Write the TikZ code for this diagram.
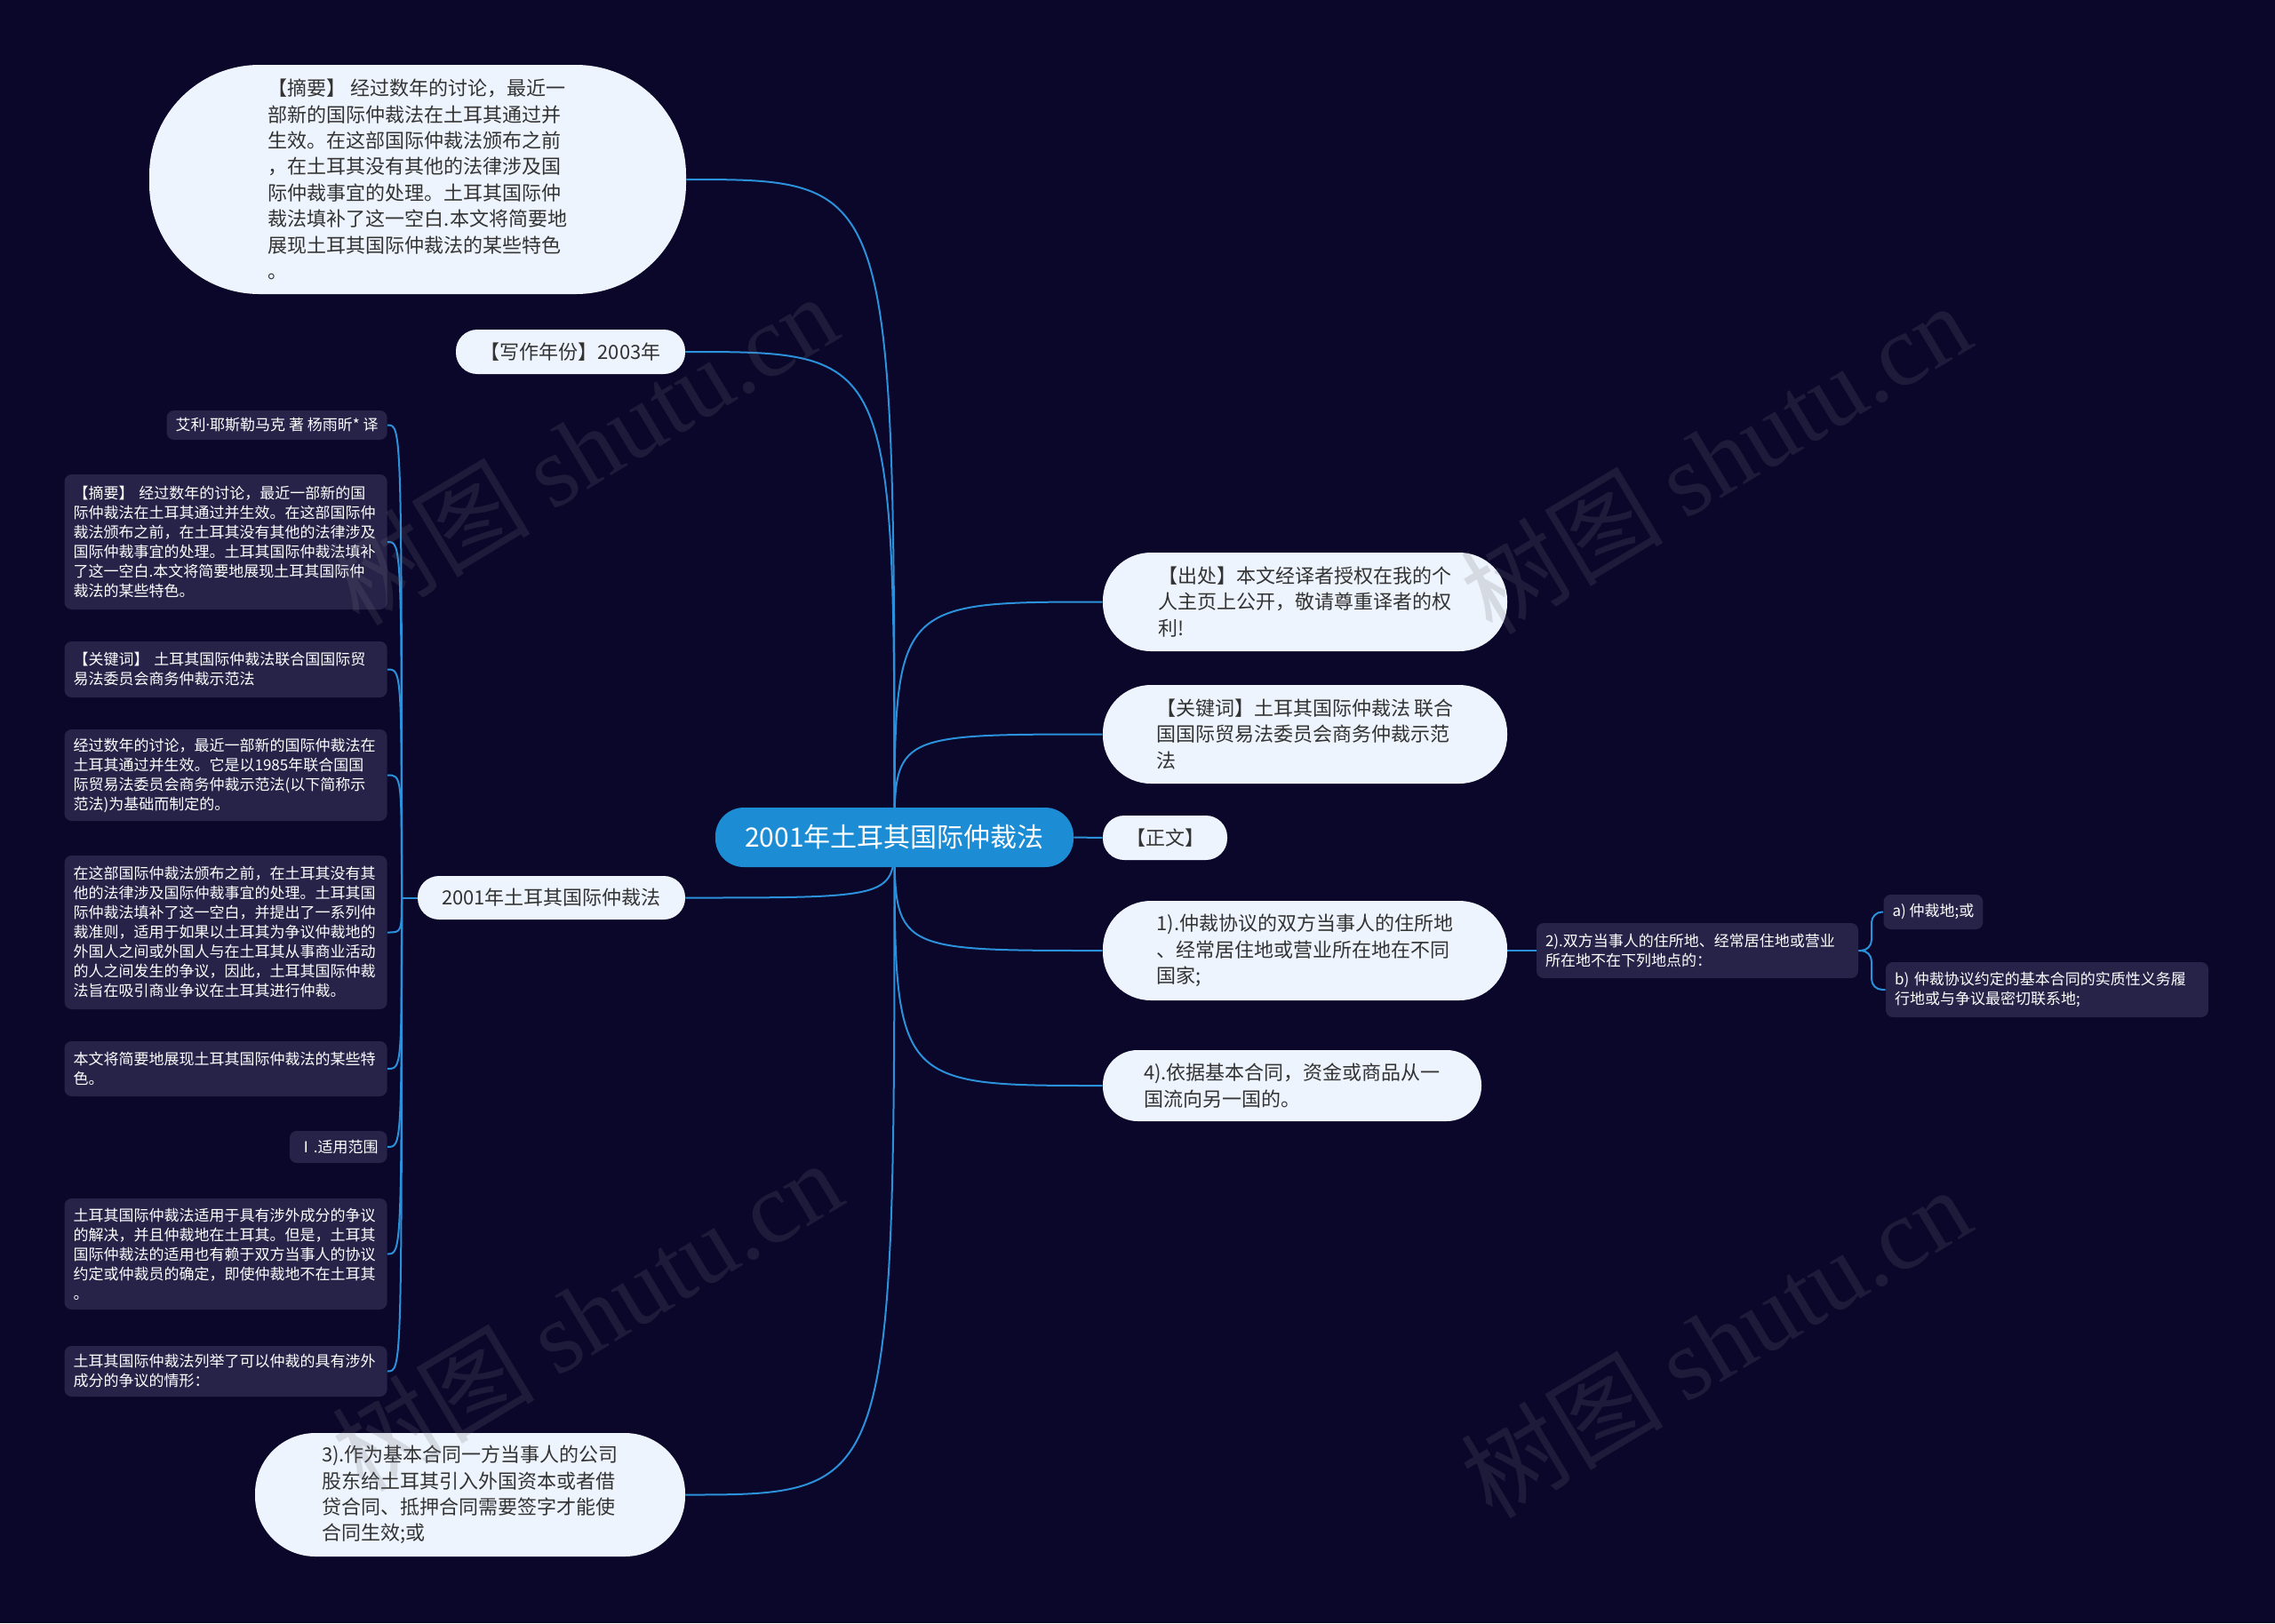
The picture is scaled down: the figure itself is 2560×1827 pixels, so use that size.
\documentclass[tikz,border=0pt]{standalone}
\usepackage{fontspec}
\setmainfont{Noto Sans CJK SC}
\newfontfamily\wmserif{Liberation Serif}
\newfontfamily\latinf{Noto Sans}
\definecolor{bgc}{RGB}{11,7,42}
\definecolor{lightc}{RGB}{238,244,253}
\definecolor{darkc}{RGB}{38,34,72}
\definecolor{mainc}{RGB}{28,141,213}
\definecolor{linec}{RGB}{43,145,218}
\definecolor{txtc}{RGB}{51,51,51}
\definecolor{wmc}{RGB}{110,110,122}
\pgfdeclarelayer{bglayer}
\pgfdeclarelayer{fglayer}
\pgfsetlayers{bglayer,main,fglayer}
\tikzset{
 lb/.style={fill=lightc, text=txtc, align=left, font=\fontsize{11}{14.7}\selectfont, inner sep=0pt},
 db/.style={fill=darkc, text=white, align=left, font=\fontsize{8.5}{11}\selectfont, rounded corners=4pt, inner xsep=5pt, inner ysep=0pt},
 dbw/.style={db, text width=171.5pt, minimum width=181.5pt, anchor=east},
 conn/.style={draw=linec, line width=1pt},
 wm/.style={text=wmc, opacity=0.2, rotate=31, font=\fontsize{57}{57}\selectfont}
}
\begin{document}
\begin{tikzpicture}[x=0.5pt,y=-0.5pt]
\useasboundingbox (0,0) rectangle (2560,1827);

% central
\node[fill=mainc, text=white, font=\fontsize{15}{18}\selectfont, minimum width=201.5pt, minimum height=33.5pt, rounded corners=16pt, inner sep=0pt] (c) at (1006.5,942.5) {2001年土耳其国际仲裁法};

% light bubbles
\node[lb, minimum width=302pt, minimum height=129pt, rounded corners=62pt] (l1) at (470,202) {【摘要】 经过数年的讨论，最近一\\部新的国际仲裁法在土耳其通过并\\生效。在这部国际仲裁法颁布之前\\，在土耳其没有其他的法律涉及国\\际仲裁事宜的处理。土耳其国际仲\\裁法填补了这一空白.本文将简要地\\展现土耳其国际仲裁法的某些特色\\。};
\node[lb, minimum width=129pt, minimum height=25pt, rounded corners=12pt] (l2) at (642,396) {【写作年份】2003年};
\node[lb, minimum width=150.5pt, minimum height=24.5pt, rounded corners=12pt] (l3) at (620.5,1010.5) {2001年土耳其国际仲裁法};
\node[lb, minimum width=242pt, minimum height=69.5pt, rounded corners=34pt] (l4) at (529,1682.5) {3).作为基本合同一方当事人的公司\\股东给土耳其引入外国资本或者借\\贷合同、抵押合同需要签字才能使\\合同生效;或};

\node[lb, minimum width=227.5pt, minimum height=55.5pt, rounded corners=27pt] (r1) at (1468.5,677.5) {【出处】本文经译者授权在我的个\\人主页上公开，敬请尊重译者的权\\利!};
\node[lb, minimum width=227.5pt, minimum height=55.5pt, rounded corners=27pt] (r2) at (1468.5,826.5) {【关键词】土耳其国际仲裁法 联合\\国国际贸易法委员会商务仲裁示范\\法};
\node[lb, minimum width=70pt, minimum height=25pt, rounded corners=12pt] (r3) at (1311,943) {【正文】};
\node[lb, minimum width=227.5pt, minimum height=56pt, rounded corners=27pt] (r4) at (1468.5,1070) {1).仲裁协议的双方当事人的住所地\\、经常居住地或营业所在地在不同\\国家;};
\node[lb, minimum width=213pt, minimum height=40pt, rounded corners=19.5pt] (r5) at (1454,1222) {4).依据基本合同，资金或商品从一\\国流向另一国的。};

% dark boxes right
\node[db, text width=171pt, minimum width=181pt, minimum height=31pt] (b1) at (1910,1070) {2).双方当事人的住所地、经常居住地或营业\\所在地不在下列地点的：};
\node[db, minimum width=53.5pt, minimum height=19.5pt] (b2) at (2175.5,1026.5) {a) 仲裁地;或};
\node[db, text width=171.5pt, minimum width=181.5pt, minimum height=31pt] (b3) at (2303.5,1114) {b) 仲裁协议约定的基本合同的实质性义务履\\行地或与争议最密切联系地;};

% dark boxes left
\node[db, anchor=east, minimum height=16.5pt] (a1) at (436,478.5) {艾利{\latinf ·}耶斯勒马克 著 杨雨昕* 译};
\node[dbw, minimum height=76pt] (a2) at (436,610) {【摘要】 经过数年的讨论，最近一部新的国\\际仲裁法在土耳其通过并生效。在这部国际仲\\裁法颁布之前，在土耳其没有其他的法律涉及\\国际仲裁事宜的处理。土耳其国际仲裁法填补\\了这一空白.本文将简要地展现土耳其国际仲\\裁法的某些特色。};
\node[dbw, minimum height=31.5pt] (a3) at (436,753.5) {【关键词】 土耳其国际仲裁法联合国国际贸\\易法委员会商务仲裁示范法};
\node[dbw, minimum height=51.5pt] (a4) at (436,872.5) {经过数年的讨论，最近一部新的国际仲裁法在\\土耳其通过并生效。它是以1985年联合国国\\际贸易法委员会商务仲裁示范法(以下简称示\\范法)为基础而制定的。};
\node[dbw, minimum height=86.5pt] (a5) at (436,1049.5) {在这部国际仲裁法颁布之前，在土耳其没有其\\他的法律涉及国际仲裁事宜的处理。土耳其国\\际仲裁法填补了这一空白，并提出了一系列仲\\裁准则，适用于如果以土耳其为争议仲裁地的\\外国人之间或外国人与在土耳其从事商业活动\\的人之间发生的争议，因此，土耳其国际仲裁\\法旨在吸引商业争议在土耳其进行仲裁。};
\node[dbw, minimum height=31pt] (a6) at (436,1203) {本文将简要地展现土耳其国际仲裁法的某些特\\色。};
\node[db, anchor=east, minimum height=18pt] (a7) at (436,1291) {Ⅰ.适用范围};
\node[dbw, minimum height=62.5pt] (a8) at (436,1411.5) {土耳其国际仲裁法适用于具有涉外成分的争议\\的解决，并且仲裁地在土耳其。但是，土耳其\\国际仲裁法的适用也有赖于双方当事人的协议\\约定或仲裁员的确定，即使仲裁地不在土耳其\\。};
\node[dbw, minimum height=28.5pt] (a9) at (436,1543.5) {土耳其国际仲裁法列举了可以仲裁的具有涉外\\成分的争议的情形：};

\coordinate (lj) at (452,1010.5);
\coordinate (bj) at (2106,1070);

\begin{pgfonlayer}{bglayer}
\fill[bgc] (0,0) rectangle (2560,1827);
\foreach \t in {l1,l2,l3,l4}
  \draw[conn] (c.center) .. controls (c.center |- \t.east) .. (\t.east);
\foreach \t in {r1,r2,r4,r5}
  \draw[conn] (c.center) .. controls (c.center |- \t.west) .. (\t.west);
\draw[conn] (c.east) -- (r3.west);
\draw[conn] (l3.west) -- (lj);
\foreach \t in {a1,a2,a3,a4,a5,a6,a7,a8,a9}
  \draw[conn] (lj) .. controls (lj |- \t.east) .. (\t.east);
\draw[conn] (r4.east) -- (b1.west);
\draw[conn, rounded corners=6pt] (b1.east) -- (bj) |- (b2.west);
\draw[conn, rounded corners=6pt] (b1.east) -- (bj) |- (b3.west);
\end{pgfonlayer}

\begin{pgfonlayer}{fglayer}
\node[wm] (w1) at (655,505) {树图 {\wmserif shutu.cn}};
\node[wm] (w2) at (1930,515) {树图 {\wmserif shutu.cn}};
\node[wm] (w3) at (660,1480) {树图 {\wmserif shutu.cn}};
\node[wm] (w4) at (1930,1510) {树图 {\wmserif shutu.cn}};
\end{pgfonlayer}
\end{tikzpicture}
\end{document}
